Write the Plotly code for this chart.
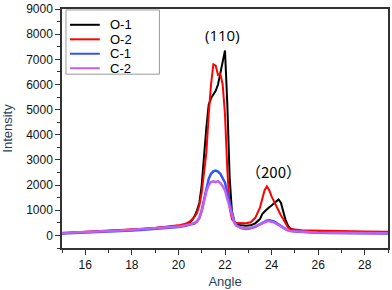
import plotly.graph_objects as go

angle = [15.0, 15.5, 16.0, 16.5, 17.0, 17.5, 18.0, 18.5, 19.0, 19.5, 20.0, 20.3, 20.5,
         20.6, 20.7, 20.8, 20.9, 21.0, 21.1, 21.2, 21.3, 21.4, 21.5, 21.6, 21.7, 21.8,
         21.9, 22.0, 22.1, 22.2, 22.3, 22.4, 22.5, 22.7, 22.9, 23.1, 23.3, 23.5,
         23.6, 23.7, 23.8, 23.9, 24.0, 24.1, 24.2, 24.3, 24.4, 24.5, 24.6, 24.7, 24.8,
         25.0, 25.3, 25.7, 26.0, 26.5, 27.0, 27.5, 28.0, 28.5, 29.0]

o1 = [90, 110, 130, 150, 170, 200, 230, 260, 290, 320, 370, 420, 520,
      620, 780, 1000, 1300, 2000, 3200, 4300, 5200, 5450, 5600, 5750, 6000, 6400,
      6900, 7350, 5200, 2300, 900, 550, 450, 400, 380, 400, 480, 650,
      850, 950, 1050, 1120, 1190, 1260, 1330, 1430, 1300, 950, 620, 400, 280,
      200, 170, 160, 150, 145, 140, 135, 130, 125, 120]

o2 = [100, 120, 140, 160, 180, 210, 240, 270, 300, 340, 400, 460, 560,
      650, 750, 900, 1200, 1700, 2400, 3300, 4800, 6000, 6800, 6750, 6380, 6420,
      6000, 4800, 2600, 1100, 650, 520, 490, 470, 480, 520, 700, 1100,
      1450, 1800, 1950, 1800, 1550, 1350, 1150, 950, 800, 650, 450, 320, 260,
      230, 210, 200, 190, 180, 170, 165, 160, 155, 150]

c1 = [80, 95, 110, 130, 150, 170, 200, 230, 260, 290, 330, 380, 430,
      450, 480, 560, 700, 1000, 1450, 1900, 2250, 2450, 2550, 2580, 2540, 2450,
      2300, 2100, 1700, 1300, 850, 550, 400, 290, 260, 280, 340, 450,
      500, 550, 590, 600, 590, 560, 500, 430, 360, 300, 250, 210, 180,
      160, 140, 120, 110, 100, 95, 90, 85, 80, 75]

c2 = [100, 115, 130, 150, 170, 195, 225, 255, 285, 315, 355, 400, 450,
      470, 500, 570, 690, 950, 1350, 1750, 2000, 2120, 2150, 2120, 2160, 2080,
      1950, 1800, 1450, 1100, 750, 500, 380, 300, 280, 300, 360, 450,
      490, 530, 560, 560, 550, 520, 470, 410, 350, 290, 240, 200, 175,
      160, 145, 130, 120, 110, 105, 100, 95, 90, 85]

names = ["O-1", "O-2", "C-1", "C-2"]
colors = ["#000000", "#ff0000", "#3452f5", "#c25ef0"]
values = [o1, o2, c1, c2]
widths = [2, 2, 2.5, 2.5]

fig = go.Figure()
for name, vals, col, w in zip(names, values, colors, widths):
    fig.add_trace(go.Scatter(x=angle, y=vals, mode="lines", name=name,
                             line=dict(color=col, width=w), showlegend=False))

# compact legend box drawn in paper coordinates
fig.add_shape(type="rect", xref="paper", yref="paper", x0=0.0122, x1=0.2988,
              y0=0.7273, y1=0.9959, line=dict(color="#999999", width=1), fillcolor="white",
              layer="above")
leg_y = [0.9339, 0.8731, 0.8128, 0.7521]
for name, col, ly in zip(names, colors, leg_y):
    fig.add_shape(type="line", xref="paper", yref="paper", x0=0.0244, x1=0.1159,
                  y0=ly, y1=ly, line=dict(color=col, width=2), layer="above")
    fig.add_annotation(xref="paper", yref="paper", x=0.1402, y=ly, text=name,
                       xanchor="left", yanchor="middle", showarrow=False,
                       font=dict(family="Liberation Sans, Arial", size=13, color="#000000"))

axis_common = dict(showline=True, linecolor="#333333", linewidth=1.5, mirror=True,
                   ticks="outside", ticklen=5, tickwidth=1.2, tickcolor="#333333",
                   showgrid=False, zeroline=False, ticklabeloverflow="allow",
                   tickfont=dict(family="Liberation Sans, Arial", size=12, color="#111111"))

fig.update_xaxes(range=[15, 29], tickvals=[16, 18, 20, 22, 24, 26, 28],
                 minor=dict(tickvals=[15, 17, 19, 21, 23, 25, 27, 29], ticklen=3,
                            tickcolor="#333333", ticks="outside"),
                 title=dict(text="Angle", font=dict(family="Liberation Sans, Arial", size=13),
                            standoff=6),
                 **axis_common)
fig.update_yaxes(range=[-500, 9001], tickvals=list(range(0, 9001, 1000)),
                 minor=dict(tickvals=[-500] + list(range(500, 9000, 1000)), ticklen=3,
                            tickcolor="#333333", ticks="outside"),
                 title=dict(text="Intensity", font=dict(family="Liberation Sans, Arial", size=13),
                            standoff=12),
                 **axis_common)

fig.add_annotation(x=21.9, y=7980, text="(110)", showarrow=False,
                   font=dict(family="Open Sans", size=15, color="#000000"))
fig.add_annotation(x=24.08, y=2560, text="（200）", showarrow=False,
                   font=dict(family="Noto Sans CJK TC", size=15, color="#000000"))

fig.update_layout(
    width=392, height=290,
    margin=dict(l=62, r=2, t=6, b=42),
    paper_bgcolor="white", plot_bgcolor="white",
    showlegend=False,
)

fig.write_html("out.html", config={"displayModeBar": False},
               post_script="document.body.style.margin='0';document.body.style.overflow='hidden';")
